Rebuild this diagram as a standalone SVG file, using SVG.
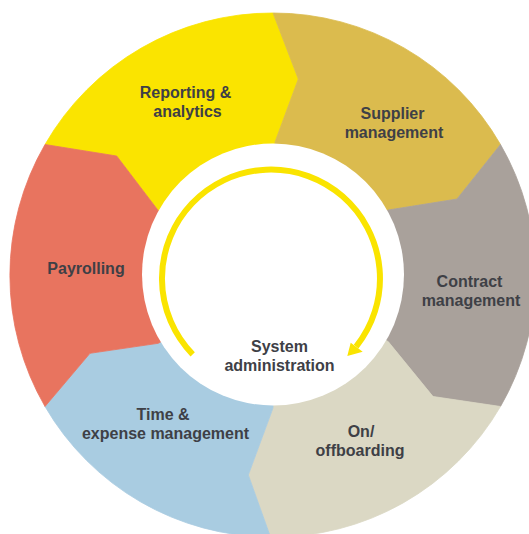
<svg xmlns="http://www.w3.org/2000/svg" width="529" height="534" viewBox="0 0 529 534">
<style>
.seg{stroke-width:0.8;stroke-linejoin:round}
.lbl{font-family:"Liberation Sans",Arial,sans-serif;font-weight:bold;font-size:16px;fill:#3E4046;text-anchor:middle}
.arc{fill:none;stroke:#FAE400;stroke-width:6}
</style>
<rect width="529" height="534" fill="#FFFFFF"/>
<g id="node-reporting">
<path class="seg" fill="#FAE400" stroke="#FAE400" d="M45,144.5 A262,262 0 0 1 273,13 L298.3,79 L275,142 L272.5,275 L158.3,210.7 L116.7,156 Z"/>
<text class="lbl" x="185.5" y="98">Reporting &amp;</text>
<text class="lbl" x="187.5" y="117">analytics</text>
</g>
<g id="node-supplier">
<path class="seg" fill="#DBBB4E" stroke="#DBBB4E" d="M273,13 A262,262 0 0 1 500.5,144.5 L457,199 L388.3,210 L272.5,275 L275,142 L298.3,79 Z"/>
<text class="lbl" x="392.5" y="119">Supplier</text>
<text class="lbl" x="394" y="138">management</text>
</g>
<g id="node-contract">
<path class="seg" fill="#A9A19B" stroke="#A9A19B" d="M500.5,144.5 A262,262 0 0 1 500.5,406.5 L433,396.5 L388.3,341.7 L272.5,275 L388.3,210 L457,199 Z"/>
<text class="lbl" x="469.5" y="287">Contract</text>
<text class="lbl" x="471" y="306">management</text>
</g>
<g id="node-onboarding">
<path class="seg" fill="#DBD8C4" stroke="#DBD8C4" d="M500.5,406.5 A262,262 0 0 1 270.5,537 L248.3,475 L273,408 L272.5,275 L388.3,341.7 L433,396.5 Z"/>
<text class="lbl" x="361" y="437">On/</text>
<text class="lbl" x="360" y="456">offboarding</text>
</g>
<g id="node-time">
<path class="seg" fill="#A9CCE1" stroke="#A9CCE1" d="M270.5,537 A262,262 0 0 1 45,406.5 L90,353.3 L158.3,343.3 L272.5,275 L273,408 L248.3,475 Z"/>
<text class="lbl" x="163" y="420">Time &amp;</text>
<text class="lbl" x="165.5" y="439">expense management</text>
</g>
<g id="node-payroll">
<path class="seg" fill="#E8745F" stroke="#E8745F" d="M45,406.5 A262,262 0 0 1 45,144.5 L116.7,156 L158.3,210.7 L272.5,275 L158.3,343.3 L90,353.3 Z"/>
<text class="lbl" x="86" y="274">Payrolling</text>
</g>
<g id="node-system">
<circle cx="273" cy="274.5" r="131" fill="#FFFFFF"/>
<text class="lbl" x="279.5" y="352">System</text>
<text class="lbl" x="279.5" y="371">administration</text>
</g>
<g id="connectors">
<path class="arc" d="M192.7,354.4 A109,109 0 1 1 356.1,346.6"/>
<polygon fill="#FAE400" points="347.3,356 350.7,342.7 362.7,351.7"/>
</g>
</svg>
